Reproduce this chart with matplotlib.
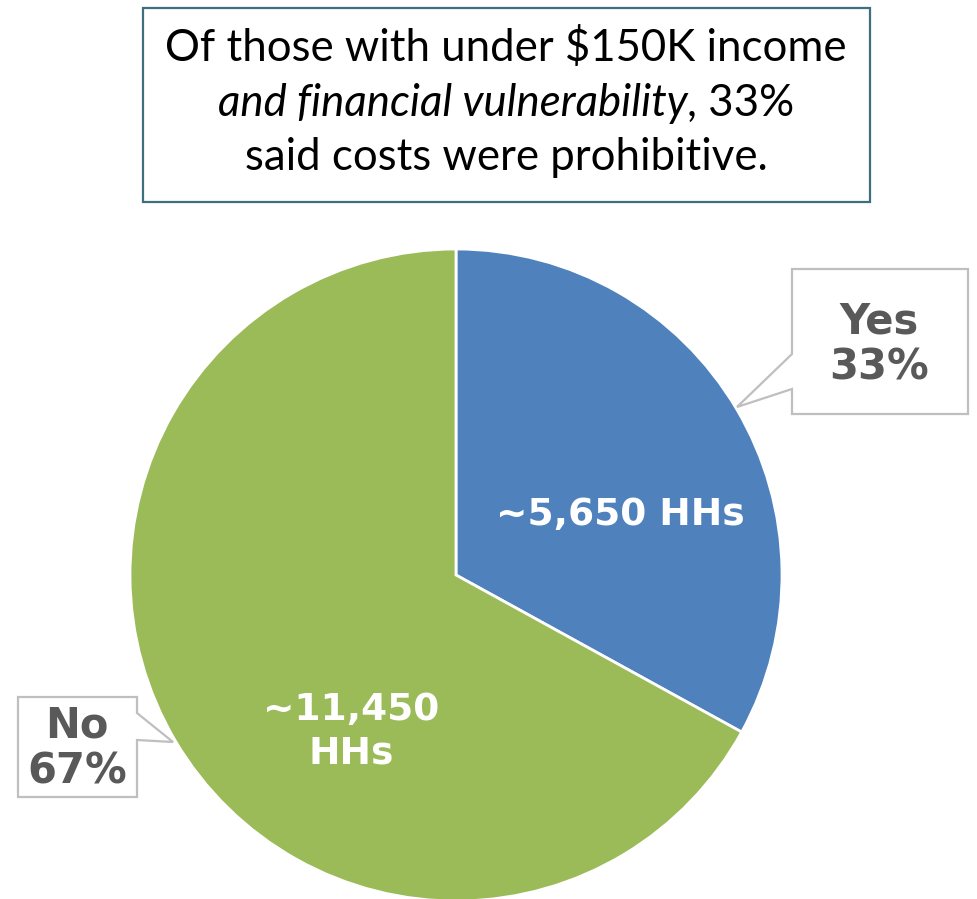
import matplotlib
matplotlib.use('Agg')
import matplotlib.pyplot as plt
from matplotlib.patches import Polygon, Rectangle

# data
labels = ['Yes', 'No']
shares = [33, 67]
households = [5650, 11450]
colours = ['#4F81BD', '#9BBB59']

W, H = 977, 899
fig = plt.figure(figsize=(W / 100, H / 100), dpi=100)
ax = fig.add_axes([0, 0, 1, 1])

def py(y):
    # pixel row (from top) -> data y
    return H - y

wedges, _ = ax.pie(shares, colors=colours, startangle=90, counterclock=False,
                   center=(456, py(575)), radius=326,
                   wedgeprops=dict(edgecolor='white', linewidth=2))
ax.set_xlim(0, W)
ax.set_ylim(0, H)
ax.set_aspect('equal')
ax.axis('off')

# values inside the slices
inner = dict(color='white', fontsize=27, fontweight='bold', ha='center',
             va='center', family='DejaVu Sans')
ax.text(620, py(515), f"~{households[0]:,} HHs", **inner)
ax.text(351, py(710), f"~{households[1]:,}", **inner)
ax.text(351, py(753), "HHs", **inner)

# callouts
grey_edge = '#BFBFBF'
yes_box = [(792, 269), (968, 269), (968, 414), (792, 414), (792, 389),
           (737, 407), (792, 354)]
no_box = [(18, 697), (137, 697), (137, 713), (173, 742), (137, 740),
          (137, 797), (18, 797)]
for pts in (yes_box, no_box):
    ax.add_patch(Polygon([(x, py(y)) for x, y in pts], closed=True,
                         facecolor='white', edgecolor=grey_edge, linewidth=1.6,
                         zorder=3))

lab = dict(color='#595959', fontsize=30, fontweight='bold', ha='center',
           va='center', zorder=4, family='DejaVu Sans')
ax.text(879, py(321), labels[0], **lab)
ax.text(879, py(367), f"{shares[0]}%", **lab)
ax.text(77, py(726), labels[1], **lab)
ax.text(77, py(772), f"{shares[1]}%", **lab)

# title box
ax.add_patch(Rectangle((143, py(202)), 727, 194, facecolor='white',
                       edgecolor='#3F6E7E', linewidth=1.6, zorder=3))
tfont = dict(family='Lato', fontsize=31.5, color='black', va='center', zorder=4)
cx = 506
ax.text(cx, py(48), "Of those with under $150K income", ha='center', **tfont)
ax.text(cx, py(158), "said costs were prohibitive.", ha='center', **tfont)

t1 = ax.text(0, py(103), "and financial vulnerability", ha='left',
             style='italic', **tfont)
t2 = ax.text(0, py(103), ", 33%", ha='left', **tfont)
fig.canvas.draw()
r = fig.canvas.get_renderer()
w1 = t1.get_window_extent(r).width
w2 = t2.get_window_extent(r).width
x0 = cx - (w1 + w2) / 2
t1.set_x(x0)
t2.set_x(x0 + w1)

fig.savefig('out.png', dpi=100)
